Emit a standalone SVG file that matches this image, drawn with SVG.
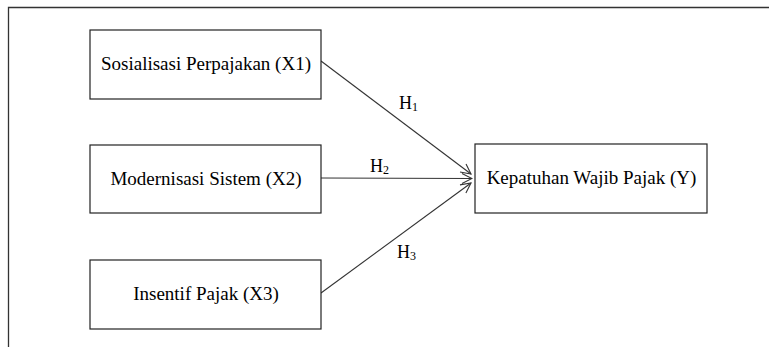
<svg xmlns="http://www.w3.org/2000/svg" width="769" height="347" viewBox="0 0 769 347">
<style>
.box{fill:#fff;stroke:#222;stroke-width:1.2}
.t{font-family:"Liberation Serif","Times New Roman",serif;font-size:19px;fill:#000;text-anchor:middle}
.h{font-family:"Liberation Serif","Times New Roman",serif;font-size:18px;fill:#000}
.sub{font-size:12px}
.c{stroke:#333;stroke-width:1.1;fill:none}
</style>
<defs>
<marker id="arr" viewBox="0 0 12 12" refX="11" refY="6" markerWidth="12" markerHeight="12" markerUnits="userSpaceOnUse" orient="auto">
<path d="M1,1 L11,6 L1,11" fill="none" stroke="#333" stroke-width="1.1"/>
</marker>
</defs>
<rect width="769" height="347" fill="#fff"/>
<path d="M8.5,347 V7.5 H769" fill="none" stroke="#333" stroke-width="1.3"/>
<g id="connectors">
<line class="c" x1="321" y1="61" x2="471" y2="174" marker-end="url(#arr)"/>
<line class="c" x1="321" y1="178" x2="472" y2="178.5" marker-end="url(#arr)"/>
<line class="c" x1="321" y1="293" x2="471" y2="183" marker-end="url(#arr)"/>
<text class="h" x="399" y="109">H<tspan class="sub" dy="2">1</tspan></text>
<text class="h" x="370" y="172">H<tspan class="sub" dy="2">2</tspan></text>
<text class="h" x="397" y="258">H<tspan class="sub" dy="2">3</tspan></text>
</g>
<g id="x1"><rect class="box" x="90" y="30" width="231" height="69"/><text class="t" x="206" y="70">Sosialisasi Perpajakan (X1)</text></g>
<g id="x2"><rect class="box" x="90" y="145" width="231" height="68"/><text class="t" x="206" y="185">Modernisasi Sistem (X2)</text></g>
<g id="x3"><rect class="box" x="90" y="260" width="231" height="69"/><text class="t" x="206" y="300">Insentif Pajak (X3)</text></g>
<g id="y"><rect class="box" x="475" y="144" width="232" height="69"/><text class="t" x="591.5" y="184">Kepatuhan Wajib Pajak (Y)</text></g>
</svg>
